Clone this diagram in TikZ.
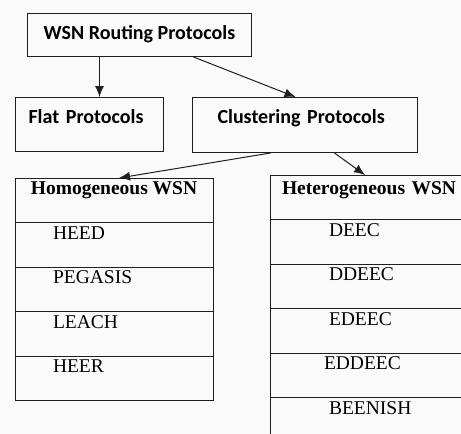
\documentclass[tikz,border=0pt]{standalone}
\usepackage{fontspec}
\setmainfont{Liberation Serif}
\newfontfamily\calibri{Carlito}
\usetikzlibrary{positioning,arrows.meta}
\definecolor{paper}{gray}{0.98}
\definecolor{edge}{gray}{0.12}

\begin{document}
\begin{tikzpicture}[x=1pt,y=-1pt,font=\fontsize{19.5}{23}\selectfont]
\tikzstyle{protobox}=[draw=edge,line width=1pt,inner sep=0pt,text height=13pt,font=\calibri\bfseries\fontsize{20}{24}\selectfont,anchor=north west]
\tikzstyle{row}=[draw=edge,line width=1pt,inner ysep=0pt,outer sep=0pt,minimum height=44.5pt,align=left,text height=13pt,text depth=24pt]
\tikzstyle{arrow}=[line width=1pt,draw=edge,-{Latex[length=11pt,width=9pt]}]
\fill [paper] (0,0) rectangle (461,434);
\useasboundingbox (0,0) rectangle (461,434);
\clip (0,0) rectangle (461,434);

\node [protobox,minimum width=224pt,minimum height=43pt,text depth=5pt] at (27,13) (wsn) {WSN Routing Protocols};
\node [protobox,minimum width=148pt,minimum height=54pt,text depth=16pt,text width=122pt,align=left] at (15,97) (flat) {Flat Protocols};
\node [protobox,minimum width=225pt,minimum height=55pt,text depth=16pt,text width=175pt,align=left] at (192,97) (clust) {Clustering Protocols};

% homogeneous column
\node [row,anchor=north west,inner xsep=5pt,minimum width=198pt] at (15,178) (homo) {\bfseries Homogeneous WSN};
\node [row,below=0pt of homo,inner xsep=38pt,text width=122pt] (heed) {HEED};
\node [row,below=0pt of heed,inner xsep=38pt,text width=122pt] (pegasis) {PEGASIS};
\node [row,below=0pt of pegasis,inner xsep=38pt,text width=122pt] (leach) {LEACH};
\node [row,below=0pt of leach,inner xsep=38pt,text width=122pt] (heer) {HEER};

% heterogeneous column
\node [row,anchor=north west,inner xsep=12pt,text width=196pt,text depth=18pt] at (270,175) (hetero) {\bfseries Heterogeneous WSN};
\node [row,below=0pt of hetero,inner xsep=59pt,text width=102pt] (deec) {DEEC};
\node [row,below=0pt of deec,inner xsep=59pt,text width=102pt] (ddeec) {DDEEC};
\node [row,below=0pt of ddeec,inner xsep=59pt,text width=102pt] (edeec) {EDEEC};
\node [row,below=0pt of edeec,inner xsep=54pt,text width=112pt] (eddeec) {EDDEEC};
\node [row,below=0pt of eddeec,inner xsep=59pt,text width=102pt] (beenish) {BEENISH};

\draw [arrow] ([xshift=-40pt]wsn.south) -- ([xshift=10pt]flat.north);
\draw [arrow] ([xshift=54pt]wsn.south) -- ([xshift=-9.5pt]clust.north);
\draw [arrow] ([xshift=-34.5pt]clust.south) -- ([xshift=5pt]homo.north);
\draw [arrow] ([xshift=29.5pt]clust.south) -- ([xshift=-15pt]hetero.north);
\end{tikzpicture}
\end{document}
